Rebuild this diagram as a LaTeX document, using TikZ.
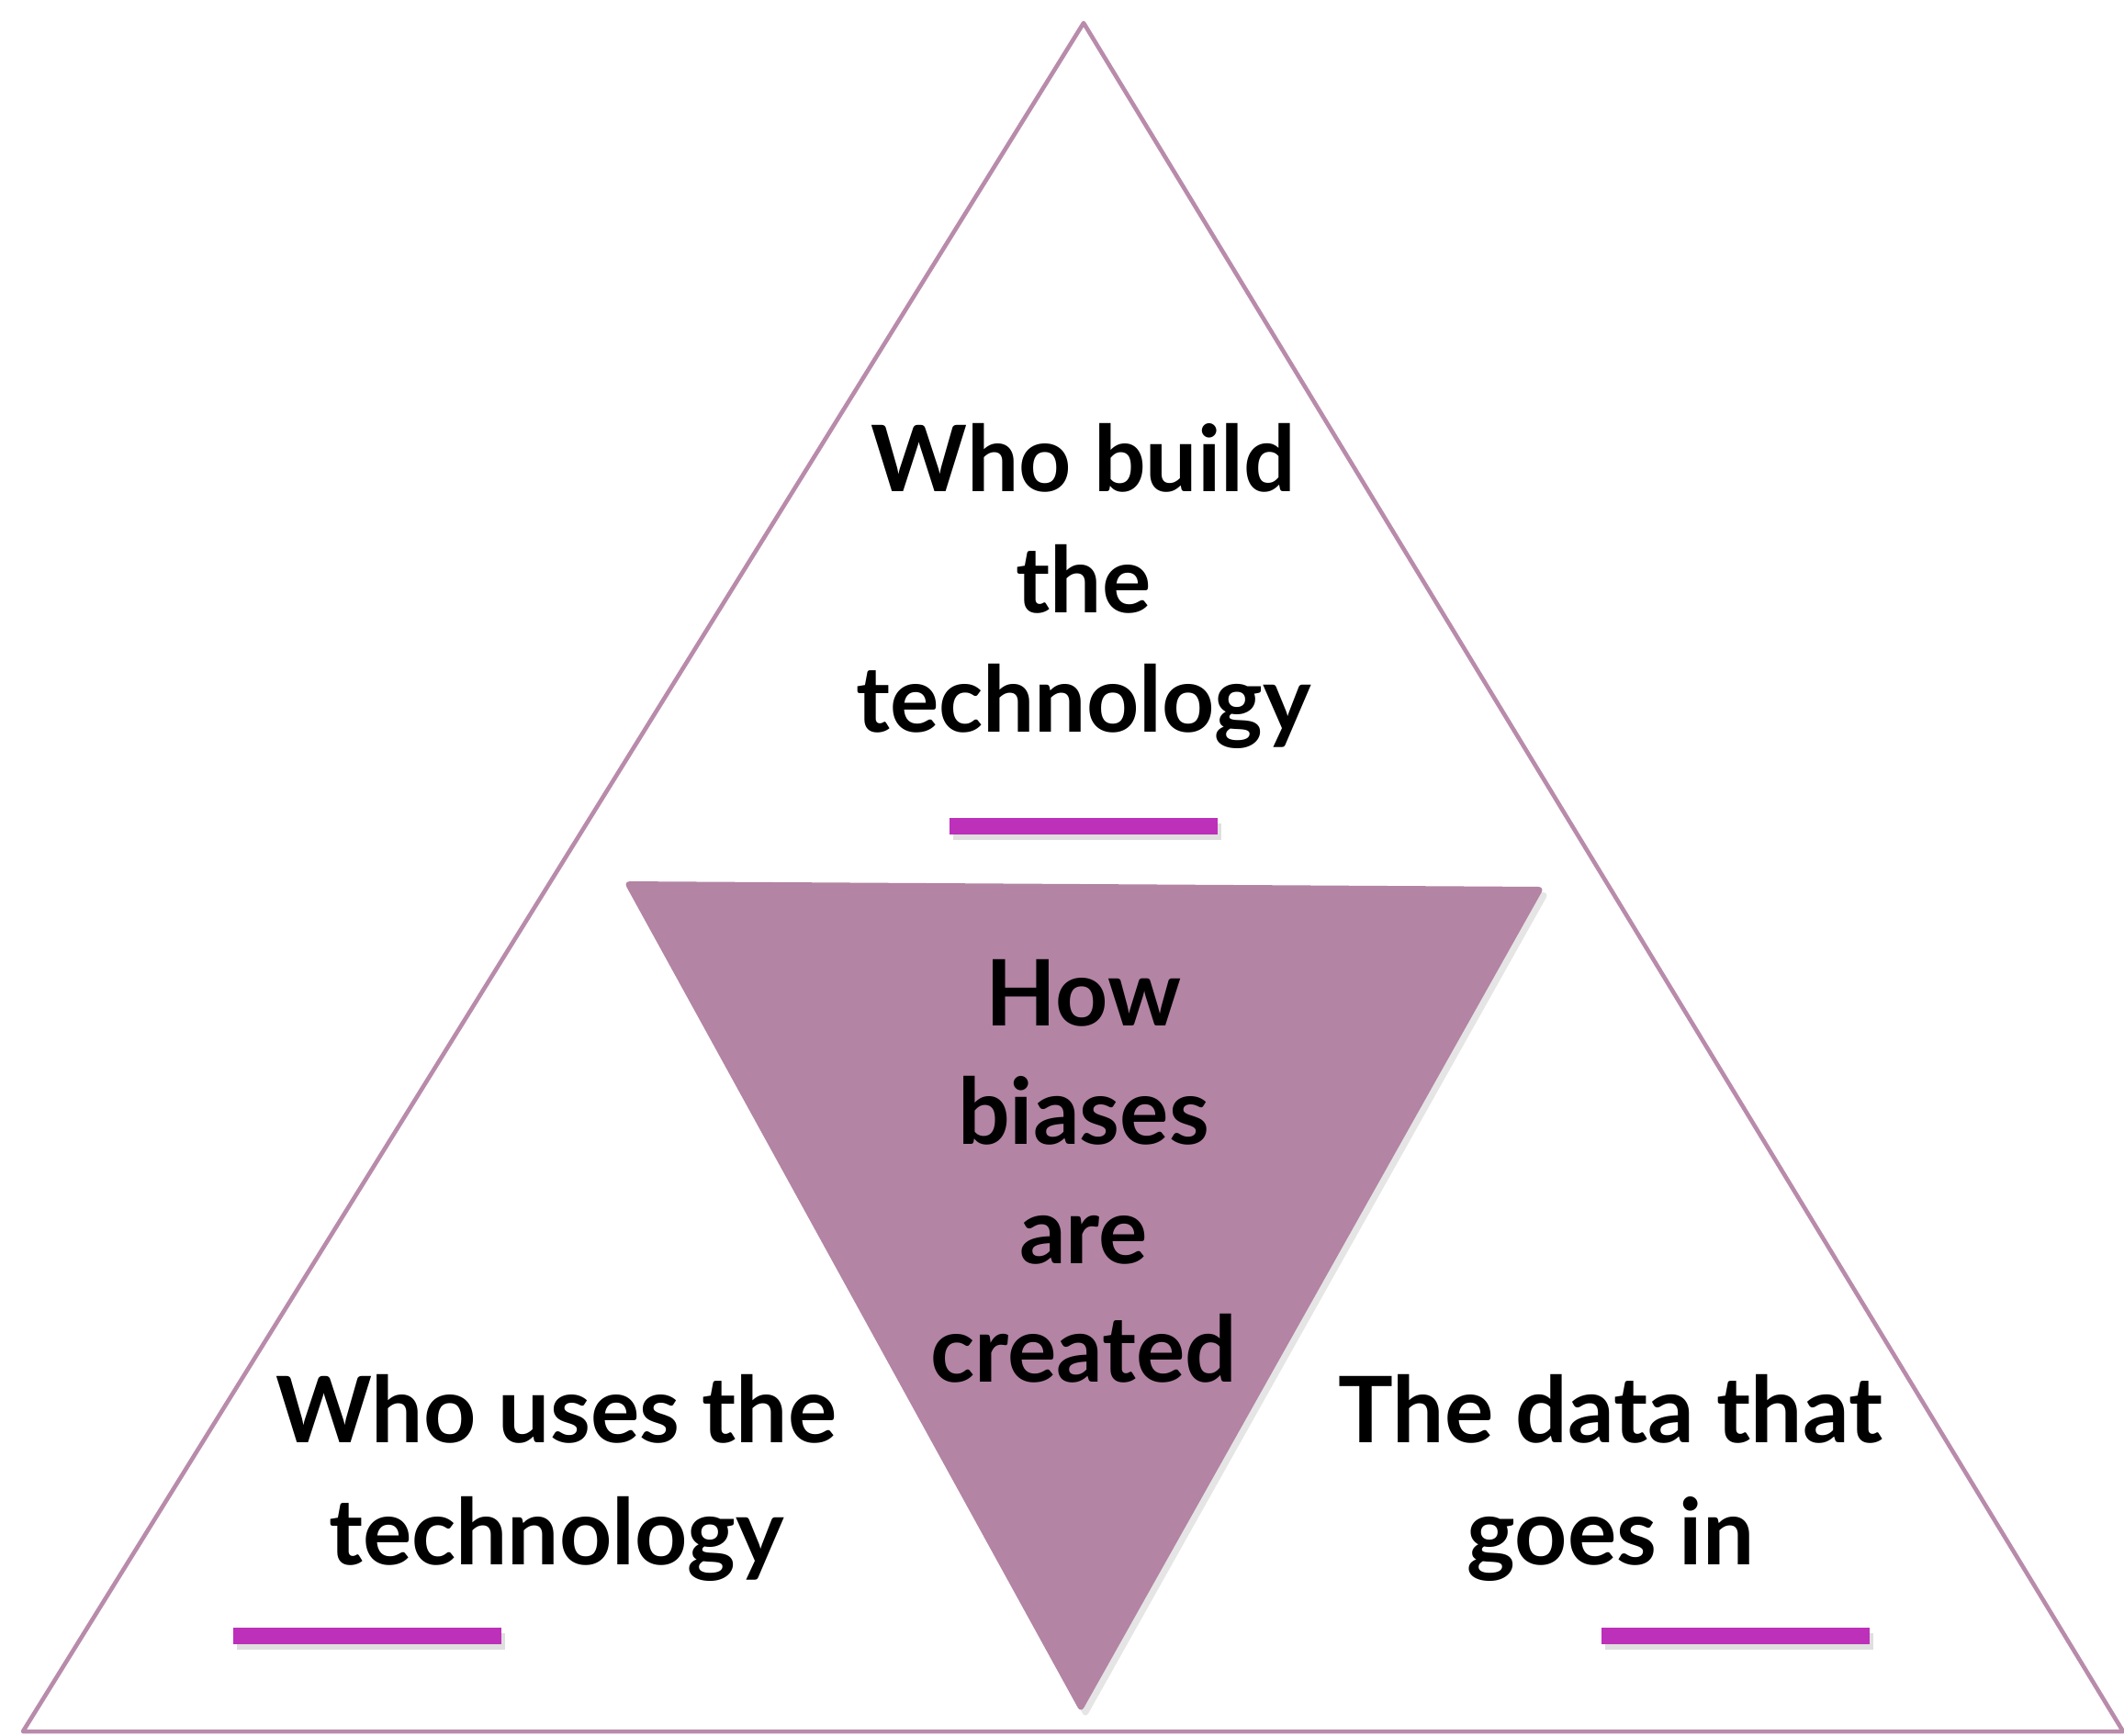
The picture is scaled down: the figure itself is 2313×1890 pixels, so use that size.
\documentclass[tikz,border=0pt]{standalone}
\usepackage{fontspec}
\setmainfont{Lato}
\usetikzlibrary{shadows}
\definecolor{outl}{HTML}{B98BAB}
\definecolor{innerfill}{HTML}{B384A3}
\definecolor{bar}{HTML}{BD30B9}
\tikzset{
  txt/.style={font=\fontsize{28.4}{37}\selectfont\bfseries, anchor=base, inner sep=0pt, text=black},
  barstyle/.style={fill=bar, draw=none, drop shadow={opacity=0.25, shadow xshift=0.04cm, shadow yshift=-0.06cm}},
}
\begin{document}
\begin{tikzpicture}[x=0.01cm, y=-0.01cm]
\useasboundingbox (0,0) rectangle (2313,1890);
\fill[white] (0,0) rectangle (2313,1890);
% outer triangle
\coordinate (apex) at (1180,25);
\coordinate (bl) at (25,1886);
\coordinate (br) at (2312,1886);
\draw[outl, line width=1.3pt, line join=round] (bl) -- (apex) -- (br) -- cycle;
% inner triangle
\coordinate (itl) at (679,960);
\coordinate (itr) at (1682,966);
\coordinate (ib) at (1177,1866);
\fill[innerfill, drop shadow={opacity=0.2, shadow xshift=0.05cm, shadow yshift=-0.06cm}, rounded corners=2pt] (itl) -- (itr) -- (ib) -- cycle;
% bars
\path[barstyle] (1034,891) rectangle (1326,909);
\path[barstyle] (254,1773) rectangle (546,1791);
\path[barstyle] (1744,1773) rectangle (2036,1791);
% top texts
\node[txt] (t1) at (1180,535) {Who build};
\node[txt] (t2) at (1180,667) {the};
\node[txt] (t3) at (1180,797) {technology};
% center
\node[txt] (c1) at (1180,1117) {How};
\node[txt] (c2) at (1180,1246) {biases};
\node[txt] (c3) at (1180,1376) {are};
\node[txt] (c4) at (1180,1505) {created};
% left
\node[txt] (l1) at (606,1571) {Who uses the};
\node[txt] (l2) at (606,1704) {technology};
% right
\node[txt] (r1) at (1754,1571) {The data that};
\node[txt] (r2) at (1754,1704) {goes in};
\end{tikzpicture}
\end{document}
